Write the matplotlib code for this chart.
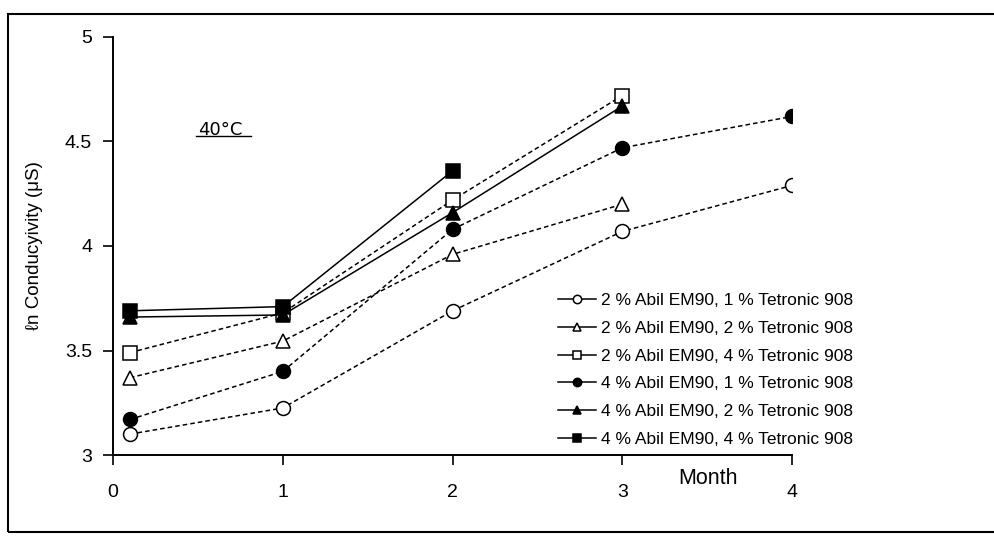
import matplotlib
matplotlib.use("Agg")
import matplotlib.pyplot as plt
from matplotlib.patches import Rectangle

plt.rcParams['font.family'] = ['Liberation Sans', 'DejaVu Sans']

months_full = [0.1, 1, 2, 3, 4]
months_3 = [0.1, 1, 2, 3]
months_2 = [0.1, 1, 2]

labels = [
    "2 % Abil EM90, 1 % Tetronic 908",
    "2 % Abil EM90, 2 % Tetronic 908",
    "2 % Abil EM90, 4 % Tetronic 908",
    "4 % Abil EM90, 1 % Tetronic 908",
    "4 % Abil EM90, 2 % Tetronic 908",
    "4 % Abil EM90, 4 % Tetronic 908",
]
a2_t1 = [3.10, 3.225, 3.69, 4.07, 4.29]
a2_t2 = [3.37, 3.545, 3.96, 4.20]
a2_t4 = [3.49, 3.68, 4.22, 4.72]
a4_t1 = [3.17, 3.40, 4.08, 4.47, 4.62]
a4_t2 = [3.66, 3.67, 4.16, 4.67]
a4_t4 = [3.69, 3.71, 4.36]

xticks = [0, 1, 2, 3, 4]
yticks = [3, 3.5, 4, 4.5, 5]

fig = plt.figure(figsize=(9.94, 5.36), dpi=100)
ax = fig.add_axes([0.1137, 0.1511, 0.797 - 0.1137, 0.931 - 0.1511])

series = [
    (months_full, a2_t1, 'o', 'white', (0, (3, 2))),
    (months_3, a2_t2, '^', 'white', (0, (3, 2))),
    (months_3, a2_t4, 's', 'white', (0, (3, 2))),
    (months_full, a4_t1, 'o', 'black', (0, (3, 2))),
    (months_3, a4_t2, '^', 'black', '-'),
    (months_2, a4_t4, 's', 'black', '-'),
]
for (x, y, m, fc, ls), lab in zip(series, labels):
    ax.plot(x, y, linestyle=ls, color='black', lw=1.1, marker=m,
            markersize=10, markerfacecolor=fc, markeredgecolor='black',
            markeredgewidth=1.1, label=lab)

ax.set_xlim(0, 4)
ax.set_ylim(3, 5)
ax.set_xticks(xticks)
ax.set_yticks(yticks)
ax.set_yticklabels([f"{v:g}" for v in yticks])
for s in ['top', 'right']:
    ax.spines[s].set_visible(False)
for s in ['left', 'bottom']:
    ax.spines[s].set_linewidth(1.4)
ax.tick_params(axis='both', direction='out', length=7, width=1.2,
               labelsize=14, pad=8)
ax.tick_params(axis='x', pad=14)

ax.set_ylabel("ℓn Conducyivity (μS)", fontsize=13.5, labelpad=16)
ax.text(3.33, 2.89, "Month", fontsize=15.5, ha='left', va='center')
ax.text(0.5, 4.555, "40°C", fontsize=13, ha='left', va='center',
        family=['DejaVu Sans'])
ax.plot([0.49, 0.81], [4.525, 4.525], color='black', lw=1)

leg = ax.legend(loc='lower right', bbox_to_anchor=(1.105, -0.005), frameon=False,
                fontsize=12.5, handlelength=2.2, handletextpad=0.3,
                labelspacing=0.72, borderaxespad=0.2)
for h in leg.legend_handles:
    h.set_markersize(6)
    h.set_linestyle('-')

fig.patches.append(Rectangle((8 / 994, 4 / 536), 1.2, 518 / 536,
                             transform=fig.transFigure, fill=False,
                             edgecolor='black', lw=1.5))

fig.savefig("out.png", dpi=100)
